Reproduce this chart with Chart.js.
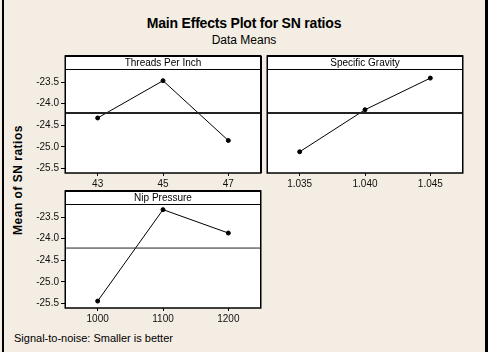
<!DOCTYPE html>
<html>
<head>
<meta charset="utf-8">
<script src="https://cdn.jsdelivr.net/npm/chart.js@4.4.0/dist/chart.umd.min.js"></script>
<style>
  body { margin: 0; background: #f4ede3; }
  #wrap { position: relative; width: 488px; height: 352px; background: #f4ede3; overflow: hidden; font-family: "Liberation Sans", Arial, sans-serif; }
  canvas { position: absolute; }
  .txt { position: absolute; color: #000; white-space: nowrap; }
  #edgeL { position: absolute; left: 2px; top: 0; width: 2px; height: 352px; background: #000; }
  #edgeR { position: absolute; left: 485px; top: 0; width: 3px; height: 352px; background: #000; }
</style>
</head>
<body>
<div id="wrap">
  <div id="edgeL"></div>
  <div id="edgeR"></div>
  <div class="txt" id="title" style="left:0;width:488px;text-align:center;top:15px;font:bold 14px 'Liberation Sans',sans-serif;letter-spacing:-0.2px;">Main Effects Plot for SN ratios</div>
  <div class="txt" style="left:0;width:488px;text-align:center;top:33px;font:12px 'Liberation Sans',sans-serif;">Data Means</div>
  <div class="txt" style="left:18px;top:180px;font:bold 12px 'Liberation Sans',sans-serif;transform:translate(-50%,-50%) rotate(-90deg);letter-spacing:0.5px;">Mean of SN ratios</div>
  <div class="txt" style="left:14px;top:332px;font:11px 'Liberation Sans',sans-serif;">Signal-to-noise: Smaller is better</div>
  <canvas id="c1" width="266" height="145" style="left:0;top:50px"></canvas>
  <canvas id="c2" width="210" height="145" style="left:262px;top:50px"></canvas>
  <canvas id="c3" width="266" height="145" style="left:0;top:185px"></canvas>
</div>
<script>
// level means
var threadsLevels = ["43", "45", "47"];
var threadsMeans = [-24.33, -23.47, -24.85];

var gravityLevels = ["1.035", "1.040", "1.045"];
var gravityMeans = [-25.11, -24.14, -23.41];

var nipLevels = ["1000", "1100", "1200"];
var nipMeans = [-25.44, -23.33, -23.87];

var yTicks = [-25.5, -25.0, -24.5, -24.0, -23.5];
var yMin = -25.6, yMax = -23.2;

var allMeans = threadsMeans.concat(gravityMeans, nipMeans);
var grandMean = allMeans.reduce(function(a, b){ return a + b; }, 0) / allMeans.length;

// header strip, frame and reference line
var panelPlugin = {
  id: 'panel',
  beforeDraw: function(chart, args, opts) {
    var ctx = chart.ctx, a = chart.chartArea;
    ctx.save();
    ctx.fillStyle = '#fff';
    ctx.fillRect(a.left, a.top - 13, a.right - a.left, a.bottom - a.top + 13);
    ctx.restore();
  },
  afterDatasetsDraw: function(chart, args, opts) {
    var ctx = chart.ctx, a = chart.chartArea;
    var y = chart.scales.y.getPixelForValue(grandMean);
    ctx.save();
    // mean line
    ctx.strokeStyle = '#222';
    ctx.lineWidth = opts.meanWidth;
    ctx.beginPath();
    ctx.moveTo(a.left, y);
    ctx.lineTo(a.right, y);
    ctx.stroke();
    // frame
    ctx.strokeStyle = '#000';
    ctx.lineWidth = 1;
    ctx.beginPath();
    ctx.moveTo(a.left, a.top + 0.5);
    ctx.lineTo(a.right, a.top + 0.5);
    ctx.stroke();
    ctx.lineWidth = 1.5;
    ctx.strokeRect(a.left + 0.25, a.top - 13, a.right - a.left - 0.5, a.bottom - a.top + 13);
    ctx.lineWidth = 2;
    ctx.beginPath();
    ctx.moveTo(a.left, a.top - 13);
    ctx.lineTo(a.right, a.top - 13);
    ctx.stroke();
    if (opts.thickRight) {
      ctx.beginPath();
      ctx.moveTo(a.right, a.top - 13);
      ctx.lineTo(a.right, a.bottom);
      ctx.stroke();
    }
    // header text
    ctx.fillStyle = '#000';
    ctx.font = '10px "Liberation Sans", sans-serif';
    ctx.textAlign = 'center';
    ctx.textBaseline = 'middle';
    ctx.fillText(opts.label, (a.left + a.right) / 2, a.top - 6);
    ctx.restore();
  }
};

function makePanel(id, labels, values, label, yWidth, pad, meanWidth, thickRight) {
  return new Chart(document.getElementById(id), {
    type: 'line',
    data: {
      labels: labels,
      datasets: [{
        data: values,
        borderColor: '#000',
        backgroundColor: '#000',
        borderWidth: 1,
        pointRadius: 2,
        pointBackgroundColor: '#000',
        tension: 0
      }]
    },
    options: {
      responsive: false,
      animation: false,
      layout: { padding: pad },
      plugins: {
        legend: { display: false },
        tooltip: { enabled: false },
        title: { display: false },
        panel: { label: label, meanWidth: meanWidth, thickRight: thickRight }
      },
      scales: {
        x: {
          type: 'category',
          offset: true,
          grid: { display: true, drawOnChartArea: false, tickLength: 3, color: '#000' },
          border: { display: false },
          ticks: { color: '#111', padding: 2, font: { size: 10, family: '"Liberation Sans", sans-serif' } },
          afterFit: function(s) { s.height = 22; }
        },
        y: {
          display: yWidth > 0,
          min: yMin,
          max: yMax,
          grid: { display: true, drawOnChartArea: false, tickLength: 4, color: '#000' },
          border: { display: false },
          ticks: {
            color: '#111',
            padding: 2,
            font: { size: 10, family: '"Liberation Sans", sans-serif' },
            callback: function(v) { return v.toFixed(1); }
          },
          afterBuildTicks: function(s) { s.ticks = yTicks.map(function(v){ return { value: v }; }); },
          afterFit: function(s) { s.width = yWidth; }
        }
      }
    },
    plugins: [panelPlugin]
  });
}

makePanel('c1', threadsLevels, threadsMeans, 'Threads Per Inch', 65, { left: 0, right: 2, top: 19, bottom: 0 }, 2, true);
makePanel('c2', gravityLevels, gravityMeans, 'Specific Gravity', 0, { left: 2, right: 9, top: 19, bottom: 0 }, 2, false);
makePanel('c3', nipLevels, nipMeans, 'Nip Pressure', 65, { left: 0, right: 2, top: 19, bottom: 0 }, 1, false);
</script>
</body>
</html>
